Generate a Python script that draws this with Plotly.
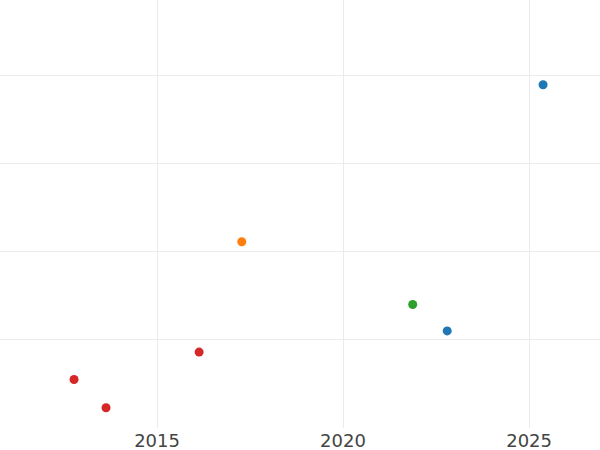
import plotly.graph_objects as go

groups = ["A", "B", "C", "D"]
colors = ["#1f77b4", "#ff7f0e", "#2ca02c", "#d62728"]

dates = {
    "A": ["2025-05-18", "2022-10-20"],
    "B": ["2017-04-12"],
    "C": ["2021-11-15"],
    "D": ["2012-10-08", "2013-08-18", "2016-02-18"],
}
values = {
    "A": [3.89, 1.10],
    "B": [2.11],
    "C": [1.40],
    "D": [0.55, 0.23, 0.86],
}

fig = go.Figure()
for g, c in zip(groups, colors):
    fig.add_trace(go.Scatter(
        x=dates[g],
        y=values[g],
        mode="markers",
        name=g,
        marker=dict(color=c, size=9),
    ))

fig.update_layout(
    width=600,
    height=450,
    template="plotly_white",
    showlegend=False,
    margin=dict(l=0, r=0, t=0, b=22),
    font=dict(family="DejaVu Sans", size=18, color="#444"),
)
fig.update_xaxes(
    type="date",
    range=["2010-10-12", "2026-11-28"],
    dtick="M60",
    tick0="2015-01-01",
    tickformat="%Y",
    gridcolor="#ebebeb",
    zeroline=False,
    showline=False,
)
fig.update_yaxes(
    range=[0, 4.85],
    dtick=1,
    showticklabels=False,
    gridcolor="#ebebeb",
    zeroline=False,
)

# the page's default body margin would push the chart off the window edges
fig.write_html(
    "out.html",
    config={"displayModeBar": False},
    post_script="document.body.style.margin='0';",
)
